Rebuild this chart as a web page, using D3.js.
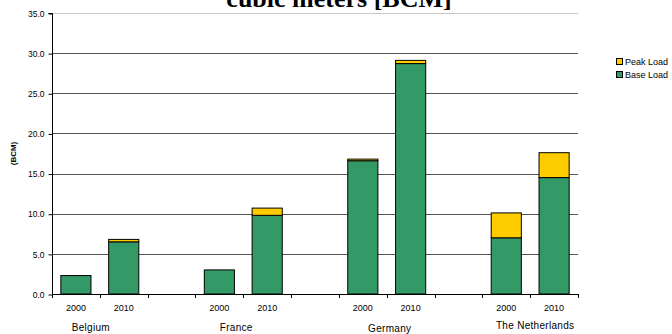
<!DOCTYPE html>
<html>
<head>
<meta charset="utf-8">
<script src="https://cdn.jsdelivr.net/npm/d3@7"></script>
<style>
  body { margin: 0; background: #fff; }
  svg { display: block; }
  text { font-family: Arial, "Liberation Sans", sans-serif; fill: #000; }
</style>
</head>
<body>
<div id="chart"></div>
<script>
// data
const countries = ["Belgium", "France", "Germany", "The Netherlands"];
const years = ["2000", "2010"];
const baseLoad = [2.3, 6.5, 3.0, 9.8, 16.6, 28.7, 7.0, 14.5];
const peakLoad = [0.0, 0.3, 0.0, 0.9, 0.2, 0.4, 3.1, 3.1];
const yTicks = [0, 5, 10, 15, 20, 25, 30, 35];
const seriesNames = ["Peak Load", "Base Load"];
const seriesColors = ["#FFCC00", "#339966"];

const width = 672, height = 334;
const plot = { left: 52, right: 578, top: 13, bottom: 294 };

const svg = d3.select("#chart").append("svg")
    .attr("width", width)
    .attr("height", height);

// slots: two years per country, then an empty slot between countries
const slots = [];
const rows = [];
countries.forEach((c, ci) => {
    years.forEach((y, yi) => {
        const k = ci * years.length + yi;
        slots.push(c + "|" + y);
        rows.push({ slot: c + "|" + y, country: c, year: y, base: baseLoad[k], peak: peakLoad[k] });
    });
    if (ci < countries.length - 1) slots.push("gap" + ci);
});

const x = d3.scaleBand()
    .domain(slots)
    .range([plot.left, plot.right])
    .paddingInner(0.37)
    .paddingOuter(0.185);

const y = d3.scaleLinear()
    .domain([0, 35])
    .range([plot.bottom, plot.top]);

// gridlines
svg.append("g")
    .selectAll("line")
    .data(yTicks.filter(d => d > 0))
    .enter().append("line")
    .attr("x1", plot.left)
    .attr("x2", plot.right)
    .attr("y1", d => Math.round(y(d)) + 0.5)
    .attr("y2", d => Math.round(y(d)) + 0.5)
    .attr("stroke", d => d === 35 ? "#c8c8c8" : "#555")
    .attr("stroke-width", 1);

// y axis
const yAxis = d3.axisLeft(y).tickValues(yTicks).tickFormat(d3.format(".1f")).tickSize(4).tickPadding(4);
const yAxisGroup = svg.append("g")
    .attr("transform", `translate(${plot.left + 0.5},0.5)`)
    .call(yAxis);
yAxisGroup.select(".domain").attr("stroke", "#000").attr("d", `M-4,${plot.top}H0V${plot.bottom}`);
yAxisGroup.selectAll(".tick line").attr("stroke", "#000");
yAxisGroup.selectAll(".tick text")
    .style("font-size", "8.5px")
    .attr("fill", "#000");

// bars
const step = x.step();
const barGroup = svg.append("g");
rows.forEach(r => {
    const bx = x(r.slot);
    barGroup.append("rect")
        .attr("x", bx)
        .attr("width", x.bandwidth())
        .attr("y", y(r.base))
        .attr("height", y(0) - y(r.base))
        .attr("fill", seriesColors[1])
        .attr("stroke", "#000")
        .attr("stroke-width", 1);
    if (r.peak > 0) {
        barGroup.append("rect")
            .attr("x", bx)
            .attr("width", x.bandwidth())
            .attr("y", y(r.base + r.peak))
            .attr("height", y(r.base) - y(r.base + r.peak))
            .attr("fill", seriesColors[0])
            .attr("stroke", "#000")
            .attr("stroke-width", 1);
    }
});

// x axis line and ticks at slot boundaries
const xAxis = svg.append("g");
xAxis.append("line")
    .attr("x1", plot.left).attr("x2", plot.right)
    .attr("y1", plot.bottom + 0.5).attr("y2", plot.bottom + 0.5)
    .attr("stroke", "#000");
xAxis.selectAll(".xtick")
    .data(d3.range(slots.length + 1))
    .enter().append("line")
    .attr("x1", i => Math.round(plot.left + i * step) + 0.5)
    .attr("x2", i => Math.round(plot.left + i * step) + 0.5)
    .attr("y1", plot.bottom)
    .attr("y2", plot.bottom + 4)
    .attr("stroke", "#000");

// year labels
xAxis.selectAll(".year")
    .data(rows)
    .enter().append("text")
    .attr("x", d => x(d.slot) + x.bandwidth() / 2)
    .attr("y", 311)
    .attr("text-anchor", "middle")
    .style("font-size", "9px")
    .text(d => d.year);

// country labels (nudged a bit like the original)
const labelNudge = [-9, -7, 3, 5];
const labelY = [331, 331, 332, 329];
xAxis.selectAll(".country")
    .data(countries)
    .enter().append("text")
    .attr("x", (c, i) => (x(c + "|" + years[0]) + x(c + "|" + years[1]) + x.bandwidth()) / 2 + labelNudge[i])
    .attr("y", (c, i) => labelY[i])
    .attr("text-anchor", "middle")
    .style("font-size", "10px")
    .style("letter-spacing", "0.3px")
    .text(d => d);

// y axis title
svg.append("text")
    .attr("transform", `translate(16,${(plot.top + plot.bottom) / 2}) rotate(-90)`)
    .attr("text-anchor", "middle")
    .style("font-size", "8px")
    .style("font-weight", "bold")
    .text("(BCM)");

// chart title, its top is cut by the picture edge as in the original
svg.append("text")
    .attr("x", 339)
    .attr("y", 7)
    .attr("text-anchor", "middle")
    .style("font-family", "'Liberation Serif', 'Times New Roman', serif")
    .style("font-weight", "bold")
    .style("font-size", "26px")
    .text("cubic meters [BCM]");

// legend
const legend = svg.append("g")
    .selectAll("g")
    .data(seriesNames)
    .enter().append("g")
    .attr("transform", (d, i) => `translate(616,${58 + i * 13})`);
legend.append("rect")
    .attr("x", 0.5).attr("y", 0.5)
    .attr("width", 6).attr("height", 6)
    .attr("fill", (d, i) => seriesColors[i])
    .attr("stroke", "#000");
legend.append("text")
    .attr("x", 9)
    .attr("y", 6.5)
    .style("font-size", "9px")
    .text(d => d);
</script>
</body>
</html>
